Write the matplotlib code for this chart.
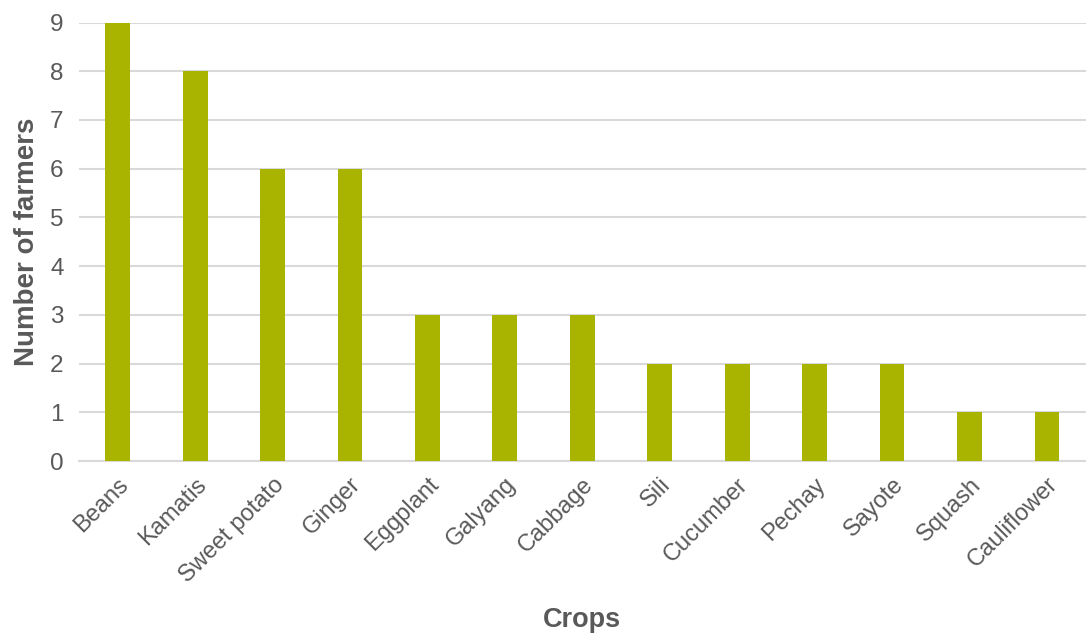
import matplotlib
matplotlib.use("Agg")
import matplotlib.pyplot as plt

crops = ["Beans", "Kamatis", "Sweet potato", "Ginger", "Eggplant", "Galyang",
         "Cabbage", "Sili", "Cucumber", "Pechay", "Sayote", "Squash", "Cauliflower"]
farmers = [9, 8, 6, 6, 3, 3, 3, 2, 2, 2, 2, 1, 1]

plt.rcParams['font.family'] = ['Liberation Sans', 'DejaVu Sans']
text_color = "#595959"

fig = plt.figure(figsize=(10.86, 6.35), dpi=100)
ax = fig.add_axes([0.0727, 0.274, 0.927, 0.6905])

x = range(len(crops))
ax.bar(x, farmers, width=0.32, color="#a9b400", zorder=3)

ax.set_xlim(-0.5, len(crops) - 0.5)
ax.set_ylim(0, 9)
ax.set_yticks(range(0, 10))
ax.yaxis.grid(True, color="#d9d9d9", linewidth=1.5, zorder=0)
ax.set_axisbelow(True)

for side in ["top", "right", "left"]:
    ax.spines[side].set_visible(False)
ax.spines["bottom"].set_color("#d9d9d9")
ax.spines["bottom"].set_linewidth(1.5)

ax.set_xticks(list(x))
ax.set_xticklabels(crops, rotation=45, ha="right", rotation_mode="anchor",
                   fontsize=17, color=text_color)
ax.tick_params(axis="x", length=0, pad=9)
ax.tick_params(axis="y", length=0, pad=11, labelsize=17.5, labelcolor=text_color)

ax.set_xlabel("Crops", fontsize=19.5, fontweight="bold", color=text_color, labelpad=15)
ax.set_ylabel("Number of farmers", fontsize=20, fontweight="bold", color=text_color, labelpad=7)

fig.savefig("out.png", dpi=100)
